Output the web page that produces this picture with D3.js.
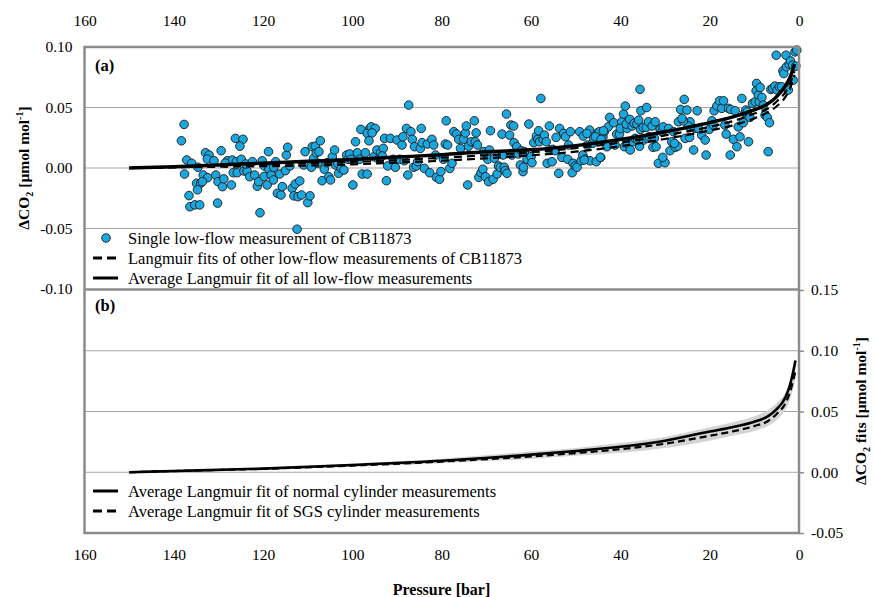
<!DOCTYPE html>
<html><head><meta charset="utf-8">
<script src="https://cdn.jsdelivr.net/npm/d3@7"></script>
<style>
html,body{margin:0;padding:0;background:#fff;}
svg{display:block;}
svg text{font-family:"Liberation Serif","Times New Roman",Tinos,"DejaVu Serif",serif !important;}
</style></head>
<body><svg id="c" width="874" height="597"></svg>
<script>
// ---------- data ----------
const pressureTicks = [160,140,120,100,80,60,40,20,0];
const topYTicks = [0.10,0.05,0.00,-0.05,-0.10];
const bottomYTicks = [0.15,0.10,0.05,0.00,-0.05];
const topGrid = [0.05,0.00,-0.05];
const bottomGrid = [0.10,0.05,0.00];

// single low-flow measurement of CB11873: [pressure (bar), ΔCO2]
const scatterPoints = [
[137.7,0.036],[138.3,0.0225],[137.1,0.0066],[137.6,-0.005],[136.6,-0.0228],[136.4,-0.032],[135.3,-0.0305],[134.2,-0.0305],
[136.0,0.0039],[134.6,0.0006],[134.9,-0.0126],[134.0,-0.0126],[134.7,-0.018],[133.4,-0.0058],[132.9,0.0126],[132.1,0.0107],
[132.5,0.0074],[132.4,-0.008],[133.6,-0.0113],[131.0,0.006],[130.6,-0.0058],[130.1,-0.0113],[129.1,-0.0154],[130.2,-0.029],
[129.4,0.0143],[128.8,-0.009],[128.0,0.006],[126.9,0.0066],[128.5,0.004],[127.1,-0.014],[126.2,0.0245],[124.5,0.0237],
[125.2,0.018],[126.0,0.0052],[124.9,0.0072],[126.7,-0.0039],[125.8,-0.0039],[124.3,-0.0025],[123.6,-0.0025],[123.9,0.0033],
[122.4,0.0052],[123.0,-0.0072],[121.9,-0.0058],[121.3,-0.015],[121.0,-0.0113],[120.7,-0.037],[120.2,0.006],[119.7,0.0016],
[118.7,-0.001],[119.8,-0.007],[119.1,-0.014],[118.8,0.0135],[118.2,-0.0058],[117.7,-0.0099],[117.6,0.0006],[117.2,0.0052],
[116.8,-0.0209],[116.0,-0.0223],[115.7,-0.0154],[116.3,-0.005],[115.0,-0.0022],[114.8,0.0107],[114.5,0.0171],[114.0,0.0017],
[113.5,-0.0168],[112.8,-0.0132],[113.1,-0.023],[112.2,-0.0237],[111.4,-0.0223],[111.8,-0.0107],[112.4,-0.0506],[110.9,0.0025],
[110.6,0.0135],[110.0,-0.0286],[109.5,-0.023],[109.2,0.0006],[109.0,0.0176],[108.3,0.018],[108.7,0.008],[108.1,0.0126],
[107.8,0.0039],[107.2,0.0225],[107.5,0.0135],[106.8,-0.0105],[106.3,-0.001],[105.7,0.0044],[105.3,-0.0072],[104.9,-0.0099],
[104.5,0.0093],[104.0,0.0149],[103.8,0.0025],[103.3,0.0039],[103.1,-0.0044],[102.5,-0.0003],[101.9,-0.0017],[101.3,0.0107],
[101.0,0.0072],[100.6,0.0116],[100.3,0.0072],[99.9,-0.014],[99.3,0.0217],[98.9,0.0126],[98.4,0.0072],[98.1,0.0319],
[96.1,0.0327],[96.7,0.0286],[95.8,0.034],[94.9,0.0327],[95.6,0.029],[97.8,-0.005],[96.7,-0.005],[96.3,0.0225],
[97.1,0.0126],[95.2,0.0093],[94.5,0.0149],[93.7,0.0126],[93.1,0.0162],[92.8,0.0245],[94.1,0.0072],[93.3,0.0099],
[92.4,-0.0105],[92.1,0.0017],[90.9,0.0072],[90.4,0.0006],[91.5,0.0245],[90.0,0.0231],
[89.4,0.0072],[88.9,0.019],[88.7,0.0258],[88.4,0.006],[87.9,0.0327],[87.6,-0.0058],[87.4,0.052],[86.9,0.030],
[86.6,0.0237],[86.1,0.0176],[86.3,0.0006],[85.7,0.0017],[85.4,0.0052],[84.8,0.0162],[84.6,0.0327],[84.4,0.0209],
[83.9,-0.0003],[83.2,0.0198],[82.7,-0.0039],[82.2,0.0237],[81.8,0.019],[81.4,0.0107],[81.2,-0.0077],[80.5,-0.0093],
[80.2,-0.003],[79.6,0.0072],[79.2,0.0198],[78.7,0.019],[78.2,-0.0003],[77.7,0.0039],[79.0,0.039],[77.3,0.030],
[76.7,0.0281],[76.2,0.0237],[75.8,0.0162],[75.1,0.0237],[74.7,0.029],[74.5,0.0347],[74.2,-0.014],[74.0,0.018],
[73.4,0.0217],[72.7,0.039],[72.3,0.029],[72.5,0.0217],[72.0,0.019],[71.7,-0.0077],[71.2,-0.0039],[70.8,-0.001],
[70.6,0.0135],[70.0,0.0116],[69.7,0.0072],[69.3,0.0149],[70.2,-0.0072],[69.5,-0.0113],[69.1,0.0308],[68.5,-0.0093],
[68.2,0.008],[67.6,-0.005],[67.3,0.0017],[66.9,0.0006],[66.3,0.0107],[66.0,0.0006],[65.8,-0.0022],[65.4,-0.0044],
[66.5,0.028],[65.5,0.0446],[64.8,0.0272],[64.5,0.0355],[63.9,0.0347],[64.3,0.0107],[63.8,0.0209],[63.5,0.0126],
[63.2,0.0176],[62.8,0.0116],[62.4,0.0025],[61.8,-0.003],[61.7,0.0006],[62.2,0.0143],[61.5,0.0135],[60.5,0.0363],
[60.9,0.0072],[60.0,0.0093],[59.8,0.0044],[59.4,0.0209],[58.8,0.0264],[58.5,0.0237],[58.3,0.0308],[57.8,0.0575],
[58.1,0.0217],[57.3,0.0237],[57.0,0.0272],[56.6,0.0217],[56.4,0.0039],[55.9,0.0347],[55.3,0.0052],[55.7,0.0149],
[55.1,0.0154],[54.6,0.0143],[54.4,0.0253],[53.8,-0.0044],[53.6,0.0327],[53.1,0.0088],[52.7,0.0286],[52.3,0.0258],
[51.8,0.0072],[51.6,0.019],[51.2,0.030],[50.8,-0.0039],[50.6,0.0039],[50.1,0.0017],[49.7,0.0006],[49.1,0.030],
[48.8,0.006],[48.4,0.0107],[47.9,0.0072],[48.3,0.0264],[47.4,0.019],[46.9,0.0314],[46.8,0.006],[46.2,0.0204],
[45.4,0.0052],[45.1,0.029],[44.7,0.030],[44.4,0.0088],[43.9,0.0258],[43.6,0.030],[43.0,0.0176],[42.7,0.034],
[42.4,0.0418],[48.1,0.0066],[47.5,0.0286],[44.5,0.0088],[46.0,0.0245],[45.6,0.0258],[44.3,0.0237],[43.8,0.0308],
[41.5,0.0374],[40.8,0.028],[41.2,0.019],[40.2,0.028],[39.7,0.0382],[39.3,0.0446],[38.9,0.0512],[40.0,0.0327],
[38.5,0.0327],[38.7,0.0363],[37.9,0.0402],[37.4,0.0347],[36.9,0.0369],[36.3,0.0363],[35.5,0.0319],[35.9,0.0396],
[34.9,0.0336],[34.2,0.0336],[33.7,0.0382],[32.9,0.0347],[32.2,0.0382],[39.1,0.0176],[38.4,0.0204],[37.2,0.0217],
[36.7,0.0245],[37.8,0.0149],[36.1,0.0231],[35.7,0.018],[34.8,0.0231],[33.9,0.0245],[33.5,0.0258],[32.4,0.0245],
[32.7,0.0171],[32.0,0.0176],[31.5,0.0039],[30.0,0.0044],[30.5,0.0088],[31.1,0.0319],[30.7,0.030],[30.4,0.034],
[29.2,0.0327],[28.5,0.0217],[28.1,0.030],[28.9,0.0143],[27.7,0.0171],[27.2,0.018],[27.9,0.0204],[27.0,0.0382],
[26.5,0.0484],[25.7,0.0567],[25.1,0.0479],[24.4,0.0382],[24.8,0.0347],[25.9,0.039],[26.2,0.041],[25.5,0.0245],
[24.5,0.0253],[23.6,0.0149],[23.3,0.0327],[22.5,0.0327],[22.8,0.0473],[35.6,0.065],[35.4,0.0473],[34.1,0.050],
[21.8,0.0272],[21.0,0.0231],[20.8,0.0107],[20.1,0.0319],[19.5,0.039],[19.2,0.0355],[19.0,0.0473],[18.4,0.0512],
[17.8,0.0555],[17.3,0.0493],[16.9,0.0555],[16.6,0.0355],[16.3,0.028],[15.8,0.0493],[15.3,0.0484],[14.7,0.0237],
[14.3,0.0473],[13.9,0.0176],[13.6,0.034],[13.2,0.0258],[12.8,0.0575],[12.5,0.0374],[12.1,0.0456],[11.9,0.0479],
[11.6,0.0465],[11.3,0.0217],[11.0,0.0418],[10.4,0.0534],[9.8,0.0547],[9.5,0.0699],[9.6,0.0638],[9.1,0.0602],
[8.7,0.0666],[8.9,0.0547],[8.3,0.0583],[8.0,0.052],[7.6,0.0437],[7.1,0.0418],[6.9,0.0135],[6.6,0.0374],
[6.3,0.0649],[5.9,0.0658],[5.4,0.0677],[4.9,0.0644],[5.1,0.0932],[4.4,0.0671],[3.9,0.0671],[3.6,0.0803],
[3.4,0.0781],[2.9,0.0932],[2.8,0.0836],[2.2,0.0858],[1.9,0.0885],[1.4,0.085],[0.9,0.096],[0.5,0.0974],
[0.7,0.0842],[2.4,0.0644],[1.3,0.0726],[15.4,0.0107]
];

// fits, top panel
const fitPressure = [150,140,130,120,110,100,90,80,70,60,50,40,30,20,15,10,7,5,3,2,1];
const avgFitAll   = [0,0.001,0.0025,0.004,0.0055,0.007,0.009,0.011,0.0135,0.015,0.0185,0.0235,0.030,0.0375,0.042,0.048,0.053,0.059,0.068,0.075,0.086];
const otherFit1   = [0,0.0005,0.001,0.0015,0.002,0.003,0.0045,0.006,0.008,0.0105,0.0135,0.018,0.024,0.031,0.035,0.041,0.046,0.051,0.059,0.066,0.077];
const otherFit2   = [0,0.0008,0.0018,0.003,0.004,0.005,0.0065,0.0085,0.0105,0.013,0.0165,0.021,0.027,0.034,0.0385,0.045,0.049,0.055,0.063,0.070,0.080];

// fits, bottom panel
const cylPressure = [150,140,120,100,80,60,50,40,30,20,15,10,7,5,3,2,1,0.8];
const normalFit   = [0,0.001,0.003,0.006,0.0095,0.0145,0.0175,0.021,0.026,0.0335,0.037,0.0415,0.046,0.052,0.062,0.072,0.088,0.092];
const sgsFit      = [0,0.001,0.0028,0.0055,0.0088,0.013,0.0158,0.019,0.0235,0.030,0.0335,0.038,0.042,0.048,0.057,0.066,0.080,0.083];
const bandLow     = [0,0.0007,0.0022,0.0045,0.0075,0.011,0.0135,0.016,0.020,0.026,0.030,0.034,0.038,0.043,0.052,0.060,0.074,0.078];
const bandHigh    = [0,0.0013,0.0035,0.0072,0.0112,0.017,0.020,0.024,0.029,0.037,0.041,0.046,0.051,0.057,0.066,0.075,0.090,0.093];

// ---------- drawing ----------
const svg = d3.select("#c");
const FONT = 15.5, LEGFONT = 16.5;
const SERIF = "'Liberation Serif','Times New Roman',Tinos,'DejaVu Serif',serif";
const GRID = "#a6a6a6", BORDER = "#8c8c8c";
const x = d3.scaleLinear().domain([160,0]).range([84.5,799]);
const yTop = d3.scaleLinear().domain([-0.1,0.1]).range([289,47]);
const yBot = d3.scaleLinear().domain([-0.05,0.15]).range([533,290]);
const L = 84.5, R = 799;

// gridlines
svg.append("g").selectAll("line").data(topGrid).join("line")
  .attr("x1",L).attr("x2",R).attr("y1",d=>yTop(d)).attr("y2",d=>yTop(d))
  .attr("stroke",GRID).attr("stroke-width",1.2);
svg.append("g").selectAll("line").data(bottomGrid).join("line")
  .attr("x1",L).attr("x2",R).attr("y1",d=>yBot(d)).attr("y2",d=>yBot(d))
  .attr("stroke",GRID).attr("stroke-width",1.2);

// band bottom
const band = cylPressure.map((p,i)=>({p,lo:bandLow[i],hi:bandHigh[i]}));
svg.append("path").datum(band)
  .attr("d",d3.area().x(d=>x(d.p)).y0(d=>yBot(d.lo)).y1(d=>yBot(d.hi)).curve(d3.curveMonotoneX))
  .attr("fill","#d4d4d4");

// scatter
svg.append("g").selectAll("circle").data(scatterPoints).join("circle")
  .attr("cx",d=>x(d[0])).attr("cy",d=>yTop(d[1])).attr("r",4.3)
  .attr("fill","#1ba7de").attr("stroke","#1a1a1a").attr("stroke-width",0.9);

const lineTop = d3.line().x(d=>x(d[0])).y(d=>yTop(d[1])).curve(d3.curveMonotoneX);
const lineBot = d3.line().x(d=>x(d[0])).y(d=>yBot(d[1])).curve(d3.curveMonotoneX);
const zipT = arr => fitPressure.map((p,i)=>[p,arr[i]]);
const zipB = arr => cylPressure.map((p,i)=>[p,arr[i]]);

svg.append("path").attr("d",lineTop(zipT(otherFit1))).attr("fill","none").attr("stroke","#000").attr("stroke-width",2.2).attr("stroke-dasharray","8,5");
svg.append("path").attr("d",lineTop(zipT(otherFit2))).attr("fill","none").attr("stroke","#000").attr("stroke-width",2.2).attr("stroke-dasharray","8,5");
svg.append("path").attr("d",lineTop(zipT(avgFitAll))).attr("fill","none").attr("stroke","#000").attr("stroke-width",3.5);

svg.append("path").attr("d",lineBot(zipB(sgsFit))).attr("fill","none").attr("stroke","#000").attr("stroke-width",2.2).attr("stroke-dasharray","7,4");
svg.append("path").attr("d",lineBot(zipB(normalFit))).attr("fill","none").attr("stroke","#000").attr("stroke-width",2.6);

// borders
const b = svg.append("g").attr("fill","none").attr("stroke",BORDER).attr("stroke-width",2.5);
b.append("rect").attr("x",L).attr("y",47).attr("width",R-L).attr("height",533-47);
b.append("line").attr("x1",L).attr("x2",R).attr("y1",289.5).attr("y2",289.5);

// axes
function styleAxis(g){
  g.attr("font-family",SERIF).attr("font-size",FONT);
  g.select(".domain").remove();
  g.selectAll("text").attr("fill","#000");
  g.selectAll(".tick line").attr("stroke",BORDER).attr("stroke-width",1.5);
}
const fmtP = d3.format("d");
const fmtY = d => d.toFixed(2).replace("−","-");
svg.append("g").attr("transform","translate(0,47)")
  .call(d3.axisTop(x).tickValues(pressureTicks).tickFormat(fmtP).tickSize(0).tickPadding(21)).call(styleAxis);
svg.append("g").attr("transform","translate(0,533)")
  .call(d3.axisBottom(x).tickValues(pressureTicks).tickFormat(fmtP).tickSize(0).tickPadding(16)).call(styleAxis);
svg.append("g").attr("transform","translate("+L+",0)")
  .call(d3.axisLeft(yTop).tickValues(topYTicks).tickFormat(fmtY).tickSize(0).tickPadding(12)).call(styleAxis);
svg.append("g").attr("transform","translate("+R+",0)")
  .call(d3.axisRight(yBot).tickValues(bottomYTicks).tickFormat(fmtY).tickSizeInner(5).tickSizeOuter(0).tickPadding(7)).call(styleAxis);

// panel labels
svg.append("text").attr("x",95).attr("y",71).attr("font-family",SERIF).attr("font-size",LEGFONT).attr("font-weight","bold").text("(a)");
svg.append("text").attr("x",95).attr("y",311).attr("font-family",SERIF).attr("font-size",LEGFONT).attr("font-weight","bold").text("(b)");

// axis titles
function yTitle(xp,yp,main){
  const t = svg.append("text").attr("transform",`translate(${xp},${yp}) rotate(-90)`)
    .attr("text-anchor","middle").attr("font-family",SERIF).attr("font-size",FONT).attr("font-weight","bold");
  t.append("tspan").text("ΔCO");
  t.append("tspan").attr("font-size",10).attr("dy",4).text("2");
  t.append("tspan").attr("dy",-4).text(main);
  t.append("tspan").attr("font-size",10).attr("dy",-6).text("-1");
  t.append("tspan").attr("dy",6).text("]");
}
yTitle(29,168," [µmol mol");
yTitle(866,411," fits [µmol mol");
svg.append("text").attr("x",441.5).attr("y",595).attr("text-anchor","middle")
  .attr("font-family",SERIF).attr("font-size",16).attr("font-weight","bold").text("Pressure [bar]");

// legends
const legTop = [
  {type:"dot",y:238,label:"Single low-flow measurement of CB11873"},
  {type:"dash",y:258,label:"Langmuir fits of other low-flow measurements of CB11873"},
  {type:"solid",y:278,label:"Average Langmuir fit of all low-flow measurements"}
];
const legBot = [
  {type:"solid",y:491,label:"Average Langmuir fit of normal cylinder measurements"},
  {type:"dash",y:511,label:"Average Langmuir fit of SGS cylinder measurements"}
];
function legend(items){
  const g = svg.append("g");
  items.forEach(it=>{
    if(it.type==="dot"){
      g.append("circle").attr("cx",106).attr("cy",it.y).attr("r",4.3).attr("fill","#1ba7de").attr("stroke","#1a1a1a").attr("stroke-width",0.9);
    } else {
      g.append("line").attr("x1",93).attr("x2",118).attr("y1",it.y).attr("y2",it.y).attr("stroke","#000")
        .attr("stroke-width",3).attr("stroke-dasharray",it.type==="dash"?"9,5":null);
    }
    g.append("text").attr("x",128).attr("y",it.y+5.5).attr("font-family",SERIF).attr("font-size",LEGFONT).text(it.label);
  });
}
legend(legTop);
legend(legBot);
</script></body></html>
